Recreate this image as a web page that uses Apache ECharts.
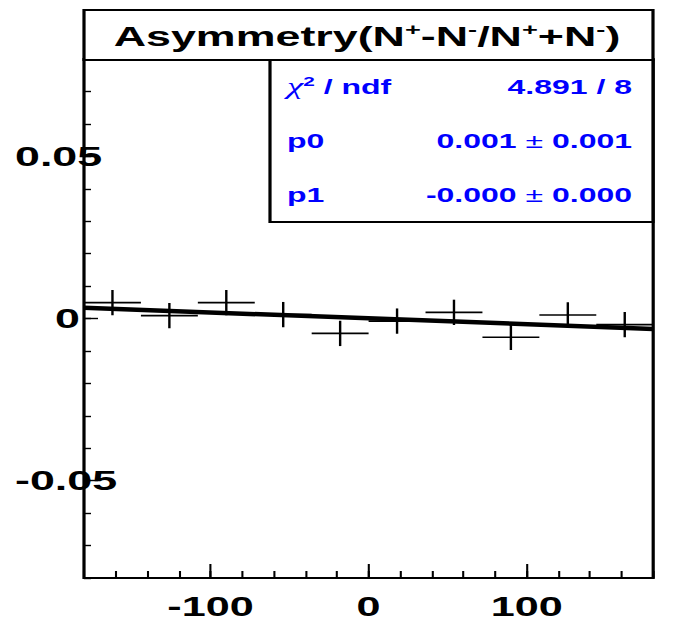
<!DOCTYPE html>
<html><head><meta charset="utf-8">
<script src="https://cdn.jsdelivr.net/npm/echarts@6/dist/echarts.min.js"></script>
<style>
html,body{margin:0;padding:0;background:#fff;overflow:hidden}
#wrap{width:675px;height:623px;overflow:hidden;position:relative;background:#fff}
#c{width:421.875px;height:623px;transform:scaleX(1.6);transform-origin:0 0;position:absolute;left:0;top:0}
</style></head><body><div id="wrap"><div id="c"></div></div>
<script>
// ---- data ----
const binCenters = [-162, -126, -90, -54, -18, 18, 54, 90, 126, 162];
const binHalfWidth = 18;
const asymValues = [0.0049, 0.0009, 0.0049, 0.0012, -0.0046, -0.0008, 0.0019, -0.0058, 0.0011, -0.0019];
const asymErrors = [0.0039, 0.0039, 0.0039, 0.0039, 0.0039, 0.0039, 0.0039, 0.0039, 0.0039, 0.0039];
const fitX = [-180, 180];
const fitY = [0.0033, -0.0032];
const xMajorTicks = [-100, 0, 100];
const yMajorTicks = [-0.05, 0, 0.05];
const titleText = 'Asymmetry(N{s|+}-N{s|-}/N{s|+}+N{s|-})';
const statsLabels = ['{g|χ}{s|2} / ndf', 'p0', 'p1'];
const statsValues = ['4.891 / 8', '0.001 {pm|±} 0.001', '-0.000 {pm|±} 0.000'];

const S = 1.6;               // horizontal stretch of the reference picture
const ix = v => v / S;       // outer px -> inner px
const FONT = 'Liberation Sans, Arial, Helvetica, sans-serif';
const BLUE = '#0000ff';

const chart = echarts.init(document.getElementById('c'), null, {renderer: 'svg'});

const plotL = 84, plotR = 653, plotT = 59, plotB = 578;
const W = 675 / S;

const minorTickX = {show: true, inside: true, length: 7, lineStyle: {color: '#000', width: 1.3}};
const majorTickX = {show: true, inside: true, length: 14, lineStyle: {color: '#000', width: 1.3}, customValues: xMajorTicks};
const minorTickY = {show: true, inside: true, length: ix(7), lineStyle: {color: '#000', width: 1.4}};
const majorTickY = {show: true, inside: true, length: ix(14), lineStyle: {color: '#000', width: 1.4}, customValues: yMajorTicks};

const statsGraphics = [];
const rowY = [87, 141, 195];
statsLabels.forEach((t, i) => {
  statsGraphics.push({
    type: 'text', x: ix(287), y: rowY[i], z: 101,
    style: {
      text: t, fill: BLUE, fontFamily: FONT, fontSize: 20, fontWeight: 'bold',
      align: 'left', verticalAlign: 'middle', lineHeight: 24,
      rich: {
        g: {fontFamily: 'Liberation Serif, serif', fontStyle: 'italic', fontWeight: 'normal', fontSize: 23, fill: BLUE, lineHeight: 24},
        s: {fontFamily: FONT, fontWeight: 'bold', fontSize: 13, fill: BLUE, verticalAlign: 'top', lineHeight: 12}
      }
    }
  });
  statsGraphics.push({
    type: 'text', x: ix(632), y: rowY[i], z: 101,
    style: {
      text: statsValues[i], fill: BLUE, fontFamily: FONT, fontSize: 20, fontWeight: 'bold',
      align: 'right', verticalAlign: 'middle', lineHeight: 24,
      rich: {
        pm: {fontFamily: FONT, fontWeight: 'normal', fontSize: 20, fill: BLUE, lineHeight: 24}
      }
    }
  });
});

const option = {
  animation: false,
  backgroundColor: '#fff',
  grid: {
    left: ix(plotL), right: W - ix(plotR), top: plotT, bottom: 623 - plotB,
    show: true, borderColor: '#000', borderWidth: 2, backgroundColor: 'transparent'
  },
  xAxis: [
    {type: 'value', min: -180, max: 180, interval: 20, position: 'bottom',
     axisLine: {show: false, onZero: false}, axisTick: minorTickX,
     axisLabel: {show: false}, splitLine: {show: false}},
    {type: 'value', min: -180, max: 180, interval: 20, position: 'bottom',
     axisLine: {show: false, onZero: false}, axisTick: majorTickX,
     axisLabel: {show: true, customValues: xMajorTicks, margin: 19, color: '#000',
       fontFamily: FONT, fontSize: 27, fontWeight: 'bold', lineHeight: 20},
     splitLine: {show: false}}
  ],
  yAxis: [
    {type: 'value', min: -0.08, max: 0.08, interval: 0.01, position: 'left',
     axisLine: {show: false, onZero: false}, axisTick: minorTickY,
     axisLabel: {show: false}, splitLine: {show: false}},
    {type: 'value', min: -0.08, max: 0.08, interval: 0.01, position: 'left',
     axisLine: {show: false, onZero: false}, axisTick: majorTickY,
     axisLabel: {show: true, customValues: yMajorTicks, margin: ix(plotL - 15), align: 'left',
       color: '#000', fontFamily: FONT, fontSize: 28, fontWeight: 'bold',
       formatter: v => (Math.abs(v) < 1e-9 ? '{z|0}' : '{n|' + v + '}'),
       rich: {
         z: {color: '#000', fontFamily: FONT, fontSize: 28, fontWeight: 'bold', padding: [0, 0, 0, ix(40)]},
         n: {color: '#000', fontFamily: FONT, fontSize: 28, fontWeight: 'bold'}
       }},
     splitLine: {show: false}}
  ],
  series: [
    {
      type: 'custom', xAxisIndex: 0, yAxisIndex: 0, clip: true, z: 3,
      data: binCenters.map((c, i) => [c, asymValues[i], binHalfWidth, asymErrors[i]]),
      renderItem: (params, api) => {
        const x = api.value(0), y = api.value(1), hw = api.value(2), e = api.value(3);
        const l = api.coord([x - hw, y]), r = api.coord([x + hw, y]);
        const t = api.coord([x, y + e]), b = api.coord([x, y - e]);
        return {type: 'group', children: [
          {type: 'line', shape: {x1: l[0], y1: l[1], x2: r[0], y2: r[1]}, style: {stroke: '#000', lineWidth: 1.6}},
          {type: 'line', shape: {x1: t[0], y1: t[1], x2: b[0], y2: b[1]}, style: {stroke: '#000', lineWidth: 1.5}}
        ]};
      }
    },
    {
      type: 'line', xAxisIndex: 0, yAxisIndex: 0, z: 4,
      data: fitX.map((x, i) => [x, fitY[i]]),
      showSymbol: false, symbol: 'none',
      lineStyle: {color: '#000', width: 4.5}
    }
  ],
  graphic: [
    {type: 'rect', z: 100, shape: {x: ix(plotL), y: 10, width: ix(plotR) - ix(plotL), height: 50},
     style: {fill: '#fff', stroke: '#000', lineWidth: 2}},
    {type: 'text', z: 101, x: ix(367), y: 36,
     style: {
       text: titleText, fill: '#000', fontFamily: FONT, fontSize: 28, fontWeight: 'bold',
       align: 'center', verticalAlign: 'middle', lineHeight: 32,
       rich: {s: {fontFamily: FONT, fontSize: 17, fontWeight: 'bold', fill: '#000', verticalAlign: 'top', lineHeight: 12}}
     }},
    {type: 'rect', z: 100, shape: {x: ix(270), y: 60, width: ix(plotR) - ix(270), height: 162},
     style: {fill: '#fff', stroke: '#000', lineWidth: 2}}
  ].concat(statsGraphics)
};
chart.setOption(option);
</script></body></html>
